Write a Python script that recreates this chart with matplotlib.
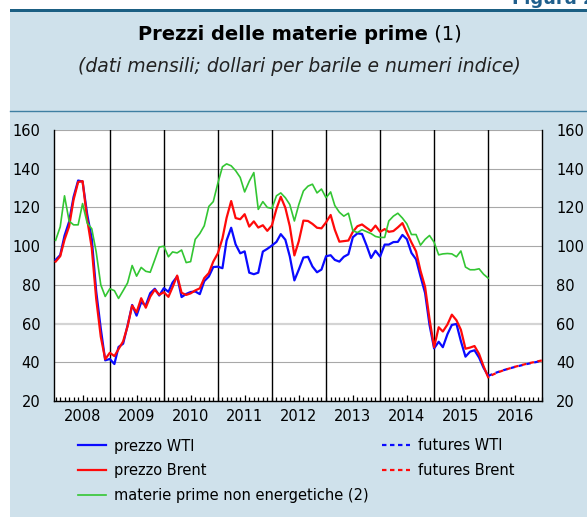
import numpy as np
import pandas as pd
import matplotlib
matplotlib.use('Agg')
import matplotlib.pyplot as plt
import matplotlib.dates as mdates
from matplotlib.patches import Rectangle
from matplotlib.lines import Line2D

# ---------------- data ----------------
months = pd.date_range('2008-01-01', periods=97, freq='MS')

wti = [92.9, 95.4, 105.4, 112.6, 125.4, 133.9, 133.4, 116.6, 103.9, 76.7, 57.4, 41.0,
       41.7, 39.1, 47.9, 49.6, 59.0, 69.6, 64.1, 71.0, 69.4, 75.7, 78.0, 74.5,
       78.3, 76.4, 81.2, 84.3, 73.7, 75.3, 76.3, 76.6, 75.2, 81.9, 84.3, 89.2,
       89.4, 88.6, 102.9, 109.5, 100.9, 96.3, 97.3, 86.3, 85.5, 86.3, 97.2, 98.6,
       100.3, 102.2, 106.2, 103.3, 94.7, 82.3, 87.9, 94.1, 94.5, 89.5, 86.5, 87.9,
       94.8, 95.3, 92.9, 92.0, 94.5, 95.8, 104.6, 106.6, 106.3, 100.5, 93.9, 97.6,
       94.6, 100.8, 100.8, 102.1, 102.2, 105.8, 103.6, 96.5, 93.2, 84.4, 75.8, 59.3,
       47.2, 50.6, 47.8, 54.5, 59.3, 59.8, 50.9, 42.9, 45.5, 46.2, 42.4, 37.2,
       33.0]

brent = [92.0, 94.8, 103.3, 110.2, 123.9, 133.1, 133.6, 113.9, 99.1, 72.8, 53.2, 41.6,
         44.9, 43.2, 46.8, 50.8, 58.6, 69.3, 65.8, 73.1, 68.2, 73.9, 77.5, 74.9,
         76.2, 73.8, 78.8, 84.8, 75.9, 74.8, 75.6, 77.1, 78.2, 83.5, 86.1, 92.0,
         96.3, 104.0, 114.6, 123.3, 114.5, 113.9, 116.5, 110.1, 112.8, 109.6, 110.8, 107.9,
         110.7, 119.3, 125.5, 119.8, 110.3, 95.2, 102.6, 113.2, 113.0, 111.5, 109.5, 109.2,
         112.3, 116.1, 108.5, 102.3, 102.6, 102.9, 107.4, 110.3, 111.2, 109.5, 107.8, 110.6,
         107.4, 108.8, 107.4, 107.8, 109.7, 111.9, 106.9, 101.9, 97.3, 87.3, 79.0, 62.3,
         47.8, 58.1, 55.9, 59.5, 64.6, 61.7, 56.8, 47.0, 47.6, 48.4, 44.3, 38.0,
         32.3]

non_energy = [103, 110, 126, 113, 111, 111, 122, 112, 109, 97, 80, 74,
              78, 77, 73, 77, 81, 90, 84.5, 89, 87, 86.5, 93, 99.5,
              100, 94.5, 97, 96.5, 98, 91.5, 92, 103.5, 106.5, 110.5, 120.5, 123,
              132.5, 141, 142.5, 141.5, 139, 135.5, 128, 133.5, 138, 119, 123, 120,
              119.5, 126, 127.5, 125, 121.5, 113, 121.5, 128.5, 131, 132, 127.5, 129.5,
              125, 128, 121, 117.5, 115.5, 117, 108, 107, 108.5, 107.5, 106.5, 105,
              104.5, 104.5, 113, 115.5, 117, 114.5, 111.5, 106, 106, 100.5, 103.5, 105.5,
              102, 95.5, 96, 96.2, 96, 94.5, 97.5, 89.2, 87.8, 87.8, 88.3, 85.5,
              83.5]

fut_months = pd.date_range('2016-01-01', periods=13, freq='MS')
fut_wti = [33.0, 33.9, 34.8, 35.6, 36.3, 37.0, 37.6, 38.2, 38.8, 39.3, 39.8, 40.3, 40.8]
fut_brent = [32.3, 33.6, 34.6, 35.5, 36.3, 37.0, 37.7, 38.3, 38.9, 39.5, 40.0, 40.5, 41.0]

y_ticks = [20, 40, 60, 80, 100, 120, 140, 160]
years = list(range(2008, 2017))

title_bold = 'Prezzi delle materie prime'
title_note = ' (1)'
subtitle = '(dati mensili; dollari per barile e numeri indice)'
labels = ['prezzo WTI', 'prezzo Brent', 'materie prime non energetiche (2)',
          'futures WTI', 'futures Brent']

# ---------------- style ----------------
plt.rcParams['font.family'] = ['DejaVu Sans']
W, H = 587, 517
fig = plt.figure(figsize=(W / 100, H / 100), dpi=100)
fig.patch.set_facecolor('white')

PANEL = '#cfe1eb'
DARK = '#1b5f83'

def fx(px):
    return px / W

def fy(py):
    return 1 - py / H

fig.patches.append(Rectangle((fx(10), 0), 1 - fx(10), fy(12), transform=fig.transFigure,
                             facecolor=PANEL, edgecolor='none', zorder=-5))
fig.patches.append(Rectangle((fx(10), fy(12)), 1 - fx(10), fy(9) - fy(12),
                             transform=fig.transFigure, facecolor=DARK,
                             edgecolor='none', zorder=-4))
fig.lines.append(Line2D([fx(10), 1], [fy(110.7), fy(110.7)], transform=fig.transFigure,
                        color='#3f7fa2', lw=1.0, zorder=-4))

fig.text(fx(512), fy(4), 'Figura 2', ha='left', va='baseline', fontsize=13,
         fontweight='bold', color='#1f5f8c')

# title (bold part + regular note), centred together
t1 = fig.text(0, fy(39.5), title_bold, fontsize=14, fontweight='bold',
              ha='left', va='baseline', color='black')
t2 = fig.text(0, fy(39.5), title_note, fontsize=14, ha='left', va='baseline',
              color='black')
fig.canvas.draw()
r = fig.canvas.get_renderer()
w1 = t1.get_window_extent(r).width
w2 = t2.get_window_extent(r).width
cx = 299.5
start = cx - (w1 + w2) / 2
t1.set_x(fx(start))
t2.set_x(fx(start + w1))

fig.text(fx(cx), fy(72), subtitle, fontsize=13.5, style='italic',
         ha='center', va='baseline', color='#222222')

# ---------------- axes ----------------
ax = fig.add_axes([fx(54.3), fy(401), fx(542.3) - fx(54.3), fy(130) - fy(401)])
ax.set_zorder(5)
ax.set_facecolor('white')

l_wti, = ax.plot(months, wti, color='#0a0aff', lw=1.6, zorder=3, solid_joinstyle='round')
l_brent, = ax.plot(months, brent, color='#ff0a0a', lw=1.6, zorder=4, solid_joinstyle='round')
l_green, = ax.plot(months, non_energy, color='#33c633', lw=1.2, zorder=5, solid_joinstyle='round')
f_wti, = ax.plot(fut_months, fut_wti, color='#0a0aff', lw=1.6, zorder=3,
                 linestyle=(0, (2.0, 1.6)))
f_brent, = ax.plot(fut_months, fut_brent, color='#ff0a0a', lw=1.6, zorder=4,
                   linestyle=(1.8, (2.0, 1.6)))

ax.set_xlim(pd.Timestamp('2007-12-23'), pd.Timestamp('2017-01-01'))
ax.set_ylim(y_ticks[0], y_ticks[-1])
ax.set_yticks(y_ticks)

ax.yaxis.grid(True, color='#a8a8a8', lw=0.8, zorder=1)
ax.set_axisbelow(True)
for val, gl in zip(y_ticks, ax.get_ygridlines()):
    if val == 60:
        gl.set_color('#d4d4d4')
        gl.set_linewidth(1.6)

for yr in years[1:]:
    ax.axvline(pd.Timestamp(f'{yr}-01-01'), color='black', lw=1.0, zorder=2)

ax.xaxis.set_major_locator(mdates.MonthLocator(bymonth=7, bymonthday=1))
ax.xaxis.set_major_formatter(mdates.DateFormatter('%Y'))
ax.xaxis.set_minor_locator(mdates.MonthLocator())
ax.tick_params(axis='x', which='major', direction='in', length=4.3, width=0.9,
               pad=5.5, labelsize=10.5, colors='black')
ax.tick_params(axis='x', which='minor', direction='in', length=2.7, width=0.9)
ax.tick_params(axis='y', which='both', length=0, labelleft=True, labelright=True,
               pad=10, labelsize=10.5)

for side in ['left', 'right', 'bottom']:
    ax.spines[side].set_color('black')
    ax.spines[side].set_linewidth(1.0)
ax.spines['top'].set_visible(False)

# ---------------- legend ----------------
leg_kw = dict(loc='upper left', frameon=False, fontsize=10.5, handlelength=1.95,
              handletextpad=0.55, labelspacing=0.67, borderpad=0, borderaxespad=0)
fig.legend([l_wti, l_brent, l_green], labels[:3],
           bbox_to_anchor=(fx(77.5), fy(438.5)), **leg_kw)
h_fw = Line2D([], [], color='#0a0aff', lw=1.6, linestyle=(0, (2.0, 1.6)))
h_fb = Line2D([], [], color='#ff0a0a', lw=1.6, linestyle=(0, (2.0, 1.6)))
fig.legend([h_fw, h_fb], labels[3:],
           bbox_to_anchor=(fx(382), fy(438.5)), **leg_kw)

fig.savefig('out.png', dpi=100)
